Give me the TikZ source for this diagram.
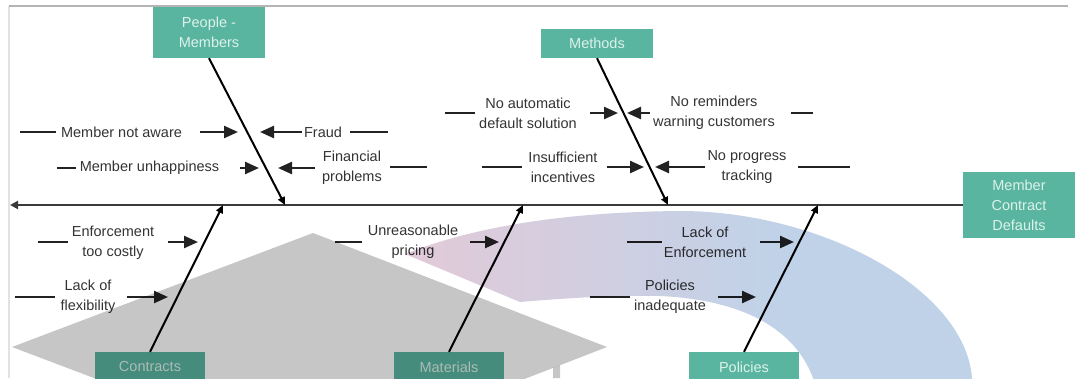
\documentclass[tikz,border=0pt]{standalone}
\usepackage{fontspec}
\setmainfont{Liberation Sans}
\usetikzlibrary{arrows.meta}

\definecolor{boxteal}{HTML}{5AB5A0}
\definecolor{boxtext}{HTML}{DDF2EB}
\definecolor{labeltext}{HTML}{333333}
\definecolor{leadgray}{HTML}{222222}
\definecolor{spinegray}{HTML}{3A3A3A}
\definecolor{framegray}{HTML}{B4B4B4}
\definecolor{edgegray}{HTML}{E2E2E2}
\definecolor{capgray}{HTML}{C6C6C6}
\definecolor{bandpink}{HTML}{E2CAD8}
\definecolor{bandblue}{HTML}{C0D2E8}

% pink on the left, turning blue a little past the middle
\pgfdeclarehorizontalshading{swoosh}{100bp}{color(0bp)=(bandpink); color(25bp)=(bandpink);
  color(56bp)=(bandblue); color(100bp)=(bandblue)}

\begin{document}
\begin{tikzpicture}[x=1pt,y=-1pt,
  txt/.style={font=\fontsize{14.5}{20}\selectfont},
  catbox/.style={txt, fill=boxteal, text=boxtext, minimum width=112pt,
    inner sep=0pt, align=center},
  cause/.style={txt, text=labeltext, align=center, inner sep=0pt},
  lead/.style={draw=leadgray, line width=2.4pt},
  feed/.style={lead, -{Triangle[length=14pt,width=12pt]}},
  bone/.style={draw=black, line width=2pt, -{Triangle[length=8pt,width=7pt]}},
  spine/.style={draw=spinegray, line width=2.5pt, -{Triangle[length=8pt,width=8pt]}},
]
\useasboundingbox (0,0) rectangle (1080,378);
\clip (0,0) rectangle (1080,378);

% page frame
\draw[edgegray, line width=1.2pt] (9,378) -- (9,6);
\draw[framegray, line width=1.5pt] (9,6) -- (1068,6);

% effect and main spine
\node[catbox, minimum height=66pt] (effect) at (1019,205) {Member\\Contract\\Defaults};
\coordinate (tail) at (10,205);
\draw[spine] (effect.west) -- (tail);

% category boxes
\node[catbox, minimum height=51pt] (people) at (209,32.5) {People -\\Members};
\node[catbox, minimum height=29pt] (methods) at (597,43.5) {Methods};
\node[catbox, minimum width=110pt, minimum height=30pt] (contracts) at (150,367) {Contracts};
\node[catbox, minimum width=110pt, minimum height=30pt] (materials) at (449,367) {Materials};
\node[catbox, minimum width=110pt, minimum height=30pt] (policies) at (744,367) {Policies};

% bones meeting the spine
\coordinate (sPeople) at (285,205);
\coordinate (sMethods) at (668,205);
\coordinate (sContracts) at (223,205);
\coordinate (sMaterials) at (523,205);
\coordinate (sPolicies) at (818,205);
\draw[bone] (people.south) -- (sPeople);
\draw[bone] (methods.south) -- (sMethods);
\draw[bone] (contracts.north) -- (sContracts);
\draw[bone] (materials.north) -- (sMaterials);
\draw[bone] (policies.north) -- (sPolicies);

% ---- People - Members
\node[cause] (c1) at (121.5,132) {Member not aware};
\coordinate (c1a) at (20,132); \coordinate (c1b) at (56,132);
\coordinate (c1c) at (200,132); \coordinate (c1d) at (238,132);
\draw[lead] (c1a) -- (c1b);
\draw[feed] (c1c) -- (c1d);

\node[cause] (c2) at (323,132) {Fraud};
\coordinate (c2a) at (302,132); \coordinate (c2b) at (260,132);
\coordinate (c2c) at (350,132); \coordinate (c2d) at (388,132);
\draw[feed] (c2a) -- (c2b);
\draw[lead] (c2c) -- (c2d);

\node[cause] (c3) at (149.5,168) {Member unhappiness};
\coordinate (c3a) at (57,168); \coordinate (c3b) at (76,168);
\coordinate (c3c) at (240,168); \coordinate (c3d) at (259,168);
\draw[lead] (c3a) -- (c3b);
\draw[feed] (c3c) -- (c3d);

\node[cause] (c4) at (352,168) {Financial\\problems};
\coordinate (c4a) at (315,168); \coordinate (c4b) at (278,168);
\coordinate (c4c) at (390,167); \coordinate (c4d) at (427,167);
\draw[feed] (c4a) -- (c4b);
\draw[lead] (c4c) -- (c4d);

% ---- Methods
\node[cause] (c5) at (528,113) {No automatic\\default solution};
\coordinate (c5a) at (445,113); \coordinate (c5b) at (475,113);
\coordinate (c5c) at (590,113); \coordinate (c5d) at (618,113);
\draw[lead] (c5a) -- (c5b);
\draw[feed] (c5c) -- (c5d);

\node[cause] (c6) at (714,113) {No reminders\\warning customers};
\coordinate (c6a) at (650,113); \coordinate (c6b) at (627,113);
\coordinate (c6c) at (791,113); \coordinate (c6d) at (813,113);
\draw[feed] (c6a) -- (c6b);
\draw[lead] (c6c) -- (c6d);

\node[cause] (c7) at (563,167) {Insufficient\\incentives};
\coordinate (c7a) at (482,167); \coordinate (c7b) at (522,167);
\coordinate (c7c) at (607,167); \coordinate (c7d) at (644,167);
\draw[lead] (c7a) -- (c7b);
\draw[feed] (c7c) -- (c7d);

\node[cause] (c8) at (747,167) {No progress\\tracking};
\coordinate (c8a) at (705,167); \coordinate (c8b) at (655,167);
\coordinate (c8c) at (798,167); \coordinate (c8d) at (850,167);
\draw[feed] (c8a) -- (c8b);
\draw[lead] (c8c) -- (c8d);

% ---- Contracts
\node[cause] (c9) at (113,243) {Enforcement\\too costly};
\coordinate (c9a) at (38,242); \coordinate (c9b) at (68,242);
\coordinate (c9c) at (168,242); \coordinate (c9d) at (198,242);
\draw[lead] (c9a) -- (c9b);
\draw[feed] (c9c) -- (c9d);

\node[cause] (c10) at (88,297) {Lack of\\flexibility};
\coordinate (c10a) at (15,297); \coordinate (c10b) at (55,297);
\coordinate (c10c) at (127,297); \coordinate (c10d) at (168,297);
\draw[lead] (c10a) -- (c10b);
\draw[feed] (c10c) -- (c10d);

% ---- Materials
\node[cause] (c11) at (413,242) {Unreasonable\\pricing};
\coordinate (c11a) at (335,242); \coordinate (c11b) at (362,242);
\coordinate (c11c) at (470,242); \coordinate (c11d) at (499,242);
\draw[lead] (c11a) -- (c11b);
\draw[feed] (c11c) -- (c11d);

% ---- Policies
\node[cause] (c12) at (705,242) {Lack of\\Enforcement};
\coordinate (c12a) at (627,242); \coordinate (c12b) at (662,242);
\coordinate (c12c) at (760,242); \coordinate (c12d) at (794,242);
\draw[lead] (c12a) -- (c12b);
\draw[feed] (c12c) -- (c12d);

\node[cause] (c13) at (670,297) {Policies\\inadequate};
\coordinate (c13a) at (590,297); \coordinate (c13b) at (630,297);
\coordinate (c13c) at (718,297); \coordinate (c13d) at (756,297);
\draw[lead] (c13a) -- (c13b);
\draw[feed] (c13c) -- (c13d);

% ---- overlays: mortarboard and swoosh, multiplied onto the diagram
\begin{scope}[blend mode=multiply]
  \fill[capgray] (313,233) -- (607,347) -- (313,461) -- (12,347) -- cycle;
  \fill[capgray] (553,367.9) -- (560,365.2) -- (560,378) -- (553,378) -- cycle;
  \begin{scope}
    \clip (405,254) .. controls (470,228) and (560,212) .. (680,211)
          .. controls (820,211) and (965,288) .. (972,378)
          -- (976,400) -- (820,400) -- (813,378)
          .. controls (795,330) and (745,300) .. (660,296)
          .. controls (600,295) and (545,300) .. (520,302) -- cycle;
    \shade[shading=swoosh] (405,200) rectangle (1005,400);
  \end{scope}
\end{scope}
\end{tikzpicture}
\end{document}
